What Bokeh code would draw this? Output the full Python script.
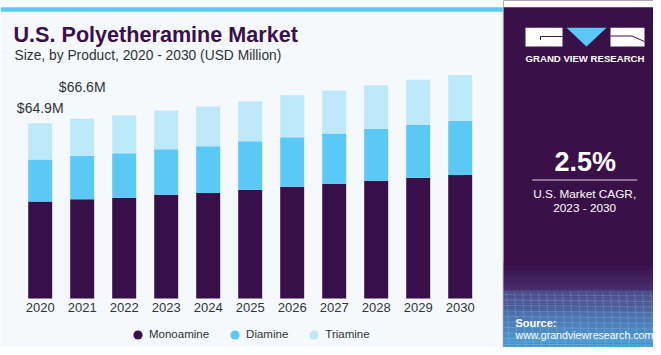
import numpy as np
from bokeh.plotting import figure
from bokeh.models import (ColumnDataSource, Range1d, Label, BoxAnnotation,
                          Legend, LegendItem)
from bokeh.layouts import row
from bokeh.embed import file_html
from bokeh.resources import INLINE
from bokeh.core.properties import value

# ---------------- data ----------------
years = [2020, 2021, 2022, 2023, 2024, 2025, 2026, 2027, 2028, 2029, 2030]
year_labels = [str(y) for y in years]
monoamine = [35.9, 36.8, 37.3, 38.4, 39.1, 40.3, 41.4, 42.5, 43.6, 44.7, 45.7]
diamine = [15.6, 16.1, 16.5, 16.9, 17.3, 17.9, 18.3, 18.6, 19.3, 19.6, 20.1]
triamine = [13.4, 13.7, 14.0, 14.3, 14.7, 14.8, 15.6, 15.9, 16.1, 16.7, 17.0]
series_names = ["Monoamine", "Diamine", "Triamine"]
labelled_years = [2020, 2021]
cagr_value = "2.5%"
cagr_caption = ["U.S. Market CAGR,", "2023 - 2030"]
title_text = "U.S. Polyetheramine Market"
subtitle_text = "Size, by Product, 2020 - 2030 (USD Million)"

# ---------------- styles ----------------
FONT = "Liberation Sans"
BG = "#f5f9fc"
PURPLE = "#3a1048"
COLORS = ["#37104a", "#5bc9f6", "#bde9fa"]
TEXT = "#333333"

# ---------------- left chart ----------------
left = figure(width=503, height=347,
              x_range=Range1d(2019.055, 2031.031),
              y_range=Range1d(-18.15, 110.37),
              output_backend="svg", toolbar_location=None,
              x_axis_location=None, y_axis_location=None, min_border=0,
              background_fill_color=BG, border_fill_color=BG,
              outline_line_color=None)
left.grid.visible = False

src = ColumnDataSource(dict(year=years, monoamine=monoamine,
                            diamine=diamine, triamine=triamine))
left.vbar_stack(["monoamine", "diamine", "triamine"], x="year", width=0.571,
                fill_color=COLORS, line_color=None, source=src)

# category (year) labels under the bars
yl_src = ColumnDataSource(dict(x=years, y=[0] * len(years), text=year_labels))
left.text(x="x", y="y", text="text", y_offset=9, source=yl_src,
          text_align="center", text_baseline="alphabetic",
          text_font=value(FONT), text_font_size="13px", text_color=TEXT)

# value labels
totals = [round(m + d + t, 1) for m, d, t in zip(monoamine, diamine, triamine)]
lab_idx = [years.index(y) for y in labelled_years]
lab_offsets = [-15.2, -31.4]
lab_src = ColumnDataSource(dict(
    x=labelled_years,
    y=[totals[i] for i in lab_idx],
    text=[f"${totals[i]:.1f}M" for i in lab_idx],
    dy=lab_offsets))
left.text(x="x", y="y", text="text", y_offset="dy", source=lab_src,
          text_align="center", text_baseline="alphabetic",
          text_font=value(FONT), text_font_size="14px", text_color=TEXT)

# legend (markers carry no data; they only provide the legend swatches)
items = []
for name, col in zip(series_names, COLORS):
    r = left.scatter(x=[np.nan], y=[np.nan], marker="circle", size=9,
                     fill_color=col, line_color=None)
    items.append(LegendItem(label=name, renderers=[r]))
legend = Legend(items=items, orientation="horizontal", location=(126, 1.5),
                glyph_width=23, glyph_height=23, label_height=23,
                label_standoff=0, spacing=14, padding=0, margin=0,
                label_text_font=FONT, label_text_font_size="11.5px",
                label_text_color=TEXT, background_fill_alpha=0,
                border_line_color=None)
left.add_layout(legend)

# title / subtitle (screen units relative to frame bottom-left)
left.add_layout(Label(x=13, y=312.8, x_units="screen", y_units="screen",
                      text=title_text, text_font=FONT, text_font_size="21.6px",
                      text_font_style="bold", text_color="#3b0f4b",
                      text_baseline="alphabetic"))
left.add_layout(Label(x=14, y=292.4, x_units="screen", y_units="screen",
                      text=subtitle_text, text_font=FONT,
                      text_font_size="13.8px", text_color=TEXT,
                      text_baseline="alphabetic"))
# white strip and top accent line
left.add_layout(BoxAnnotation(left=0, right=503, top=347, bottom=340.3,
                              left_units="screen", right_units="screen",
                              top_units="screen", bottom_units="screen",
                              fill_color="white", fill_alpha=1,
                              line_color=None))
left.add_layout(BoxAnnotation(left=0, right=503, top=340.3, bottom=335.7,
                              left_units="screen", right_units="screen",
                              top_units="screen", bottom_units="screen",
                              fill_color="#5bc9f6", fill_alpha=1,
                              line_color=None))
left.add_layout(BoxAnnotation(left=502, right=503, top=340.3, bottom=0,
                              left_units="screen", right_units="screen",
                              top_units="screen", bottom_units="screen",
                              fill_color="#c9c9d2", fill_alpha=1,
                              line_color=None))

# ---------------- right panel ----------------
right = figure(width=150, height=347, x_range=Range1d(503, 653),
               y_range=Range1d(347, 0), output_backend="svg",
               toolbar_location=None, x_axis_location=None,
               y_axis_location=None, min_border=0,
               background_fill_color=PURPLE, border_fill_color=PURPLE,
               outline_line_color=None)
right.grid.visible = False

def mix(c1, c2, t):
    a = np.array([int(c1[i:i + 2], 16) for i in (1, 3, 5)], float)
    b = np.array([int(c2[i:i + 2], 16) for i in (1, 3, 5)], float)
    c = a + (b - a) * t
    return "#%02x%02x%02x" % tuple(int(round(v)) for v in c)

right.quad(left=503, right=653, top=0, bottom=6.7, fill_color="white",
           line_color=None)
# purple fading into blue source box
edges1 = np.linspace(262, 290, 15)
right.quad(left=503, right=653, top=edges1[:-1], bottom=edges1[1:] + 0.3,
           fill_color=[mix(PURPLE, "#4a3070", t) for t in np.linspace(0, 1, 14)],
           line_color=None)
edges2 = np.linspace(290, 347, 30)
right.quad(left=503, right=653, top=edges2[:-1], bottom=edges2[1:] + 0.3,
           fill_color=[mix("#4c4f8c", "#4aa2dc", t) for t in np.linspace(0, 1, 29)],
           line_color=None)
# faint mesh
hy = np.arange(294, 347, 5.5)
right.segment(x0=503, x1=653, y0=hy, y1=hy + 1.5, line_color="white",
              line_alpha=0.13, line_width=1)
vx = np.arange(506, 653, 8)
right.segment(x0=vx, x1=vx + 3, y0=291, y1=347, line_color="white",
              line_alpha=0.13, line_width=1)

# logo
right.quad(left=[525, 610], right=[562, 644], top=[27.3, 27.3],
           bottom=[46, 46], fill_color="white", line_color=None)
right.patch(x=[566, 606, 586], y=[27.3, 27.3, 46], fill_color="#5bc9f6",
            line_color=None)
right.segment(x0=[540, 540, 610, 631.5], y0=[36, 36, 35.5, 35.5],
              x1=[562, 540, 631.5, 644], y1=[36, 39.5, 35.5, 41],
              line_color=PURPLE, line_width=1)

def rlabel(x, y, text, size, bold=False, align="center", color="white"):
    right.add_layout(Label(x=x, y=y, text=text, text_font=FONT,
                           text_font_size=size,
                           text_font_style="bold" if bold else "normal",
                           text_color=color, text_align=align,
                           text_baseline="alphabetic"))

rlabel(584.5, 57.9, "GRAND VIEW RESEARCH", "9.6px", bold=True)
rlabel(584.7, 161, cagr_value, "27px", bold=True)
right.segment(x0=[531.7], x1=[636.7], y0=[179.5], y1=[179.5],
              line_color="#d8d0e0", line_width=1)
rlabel(584.2, 193, cagr_caption[0], "11.8px")
rlabel(584.2, 207.2, cagr_caption[1], "11.8px")
rlabel(515, 322.3, "Source:", "11px", bold=True, align="left")
rlabel(515, 334, "www.grandviewresearch.com", "10.6px", align="left")

layout = row(left, right, spacing=0)
open("out.html", "w").write(file_html(layout, INLINE))
